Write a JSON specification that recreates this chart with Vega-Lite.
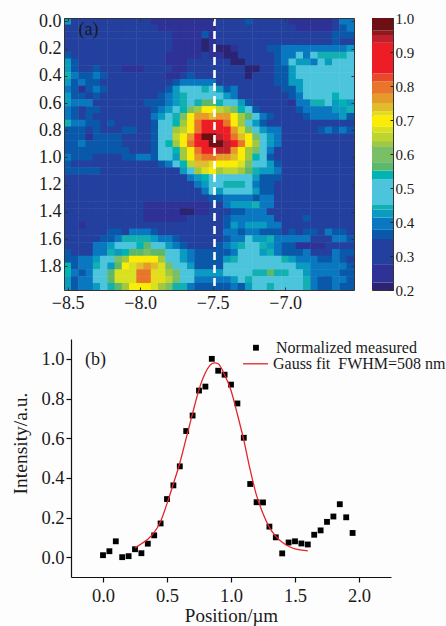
{"$schema":"https://vega.github.io/schema/vega-lite/v6.json","background":"#fdfdfd","padding":{"left":10,"top":10,"right":0,"bottom":0},"config":{"font":"Liberation Serif","axis":{"grid":false,"labelFont":"Liberation Serif","titleFont":"Liberation Serif","labelColor":"#1a1a1a","titleColor":"#1a1a1a","titleFontWeight":"normal","labelOverlap":false},"view":{"stroke":null}},"columns":2,"align":"none","bounds":"flush","spacing":{"row":49,"column":-19},"concat":[{"width":290,"height":272,"layer":[{"data":{"values":[
{"x":-8.5,"y":0,"v":0.42},{"x":-8.45,"y":0,"v":0.31},{"x":-8.4,"y":0,"v":0.31},{"x":-8.35,"y":0,"v":0.31},{"x":-8.3,"y":0,"v":0.31},{"x":-8.25,"y":0,"v":0.31},{"x":-8.2,"y":0,"v":0.31},{"x":-8.15,"y":0,"v":0.31},{"x":-8.1,"y":0,"v":0.31},{"x":-8.05,"y":0,"v":0.31},{"x":-8,"y":0,"v":0.31},{"x":-7.95,"y":0,"v":0.31},{"x":-7.9,"y":0,"v":0.25},{"x":-7.85,"y":0,"v":0.25},{"x":-7.8,"y":0,"v":0.25},{"x":-7.75,"y":0,"v":0.25},{"x":-7.7,"y":0,"v":0.25},{"x":-7.65,"y":0,"v":0.25},{"x":-7.6,"y":0,"v":0.25},{"x":-7.55,"y":0,"v":0.25},{"x":-7.5,"y":0,"v":0.25},{"x":-7.45,"y":0,"v":0.31},{"x":-7.4,"y":0,"v":0.31},{"x":-7.35,"y":0,"v":0.31},{"x":-7.3,"y":0,"v":0.31},{"x":-7.25,"y":0,"v":0.36},{"x":-7.2,"y":0,"v":0.31},{"x":-7.15,"y":0,"v":0.31},{"x":-7.1,"y":0,"v":0.31},{"x":-7.05,"y":0,"v":0.31},{"x":-7,"y":0,"v":0.31},{"x":-6.95,"y":0,"v":0.25},{"x":-6.9,"y":0,"v":0.25},{"x":-6.85,"y":0,"v":0.25},{"x":-6.8,"y":0,"v":0.25},{"x":-6.75,"y":0,"v":0.25},{"x":-6.7,"y":0,"v":0.25},{"x":-6.65,"y":0,"v":0.31},{"x":-6.6,"y":0,"v":0.39},{"x":-6.55,"y":0,"v":0.39},
{"x":-8.5,"y":0.05,"v":0.31},{"x":-8.45,"y":0.05,"v":0.31},{"x":-8.4,"y":0.05,"v":0.31},{"x":-8.35,"y":0.05,"v":0.31},{"x":-8.3,"y":0.05,"v":0.31},{"x":-8.25,"y":0.05,"v":0.31},{"x":-8.2,"y":0.05,"v":0.31},{"x":-8.15,"y":0.05,"v":0.31},{"x":-8.1,"y":0.05,"v":0.31},{"x":-8.05,"y":0.05,"v":0.31},{"x":-8,"y":0.05,"v":0.31},{"x":-7.95,"y":0.05,"v":0.31},{"x":-7.9,"y":0.05,"v":0.31},{"x":-7.85,"y":0.05,"v":0.25},{"x":-7.8,"y":0.05,"v":0.25},{"x":-7.75,"y":0.05,"v":0.25},{"x":-7.7,"y":0.05,"v":0.25},{"x":-7.65,"y":0.05,"v":0.25},{"x":-7.6,"y":0.05,"v":0.25},{"x":-7.55,"y":0.05,"v":0.25},{"x":-7.5,"y":0.05,"v":0.25},{"x":-7.45,"y":0.05,"v":0.31},{"x":-7.4,"y":0.05,"v":0.31},{"x":-7.35,"y":0.05,"v":0.31},{"x":-7.3,"y":0.05,"v":0.31},{"x":-7.25,"y":0.05,"v":0.31},{"x":-7.2,"y":0.05,"v":0.31},{"x":-7.15,"y":0.05,"v":0.31},{"x":-7.1,"y":0.05,"v":0.31},{"x":-7.05,"y":0.05,"v":0.31},{"x":-7,"y":0.05,"v":0.31},{"x":-6.95,"y":0.05,"v":0.31},{"x":-6.9,"y":0.05,"v":0.25},{"x":-6.85,"y":0.05,"v":0.25},{"x":-6.8,"y":0.05,"v":0.25},{"x":-6.75,"y":0.05,"v":0.25},{"x":-6.7,"y":0.05,"v":0.25},{"x":-6.65,"y":0.05,"v":0.31},{"x":-6.6,"y":0.05,"v":0.36},{"x":-6.55,"y":0.05,"v":0.39},
{"x":-8.5,"y":0.1,"v":0.31},{"x":-8.45,"y":0.1,"v":0.31},{"x":-8.4,"y":0.1,"v":0.31},{"x":-8.35,"y":0.1,"v":0.31},{"x":-8.3,"y":0.1,"v":0.31},{"x":-8.25,"y":0.1,"v":0.31},{"x":-8.2,"y":0.1,"v":0.31},{"x":-8.15,"y":0.1,"v":0.31},{"x":-8.1,"y":0.1,"v":0.31},{"x":-8.05,"y":0.1,"v":0.31},{"x":-8,"y":0.1,"v":0.31},{"x":-7.95,"y":0.1,"v":0.31},{"x":-7.9,"y":0.1,"v":0.31},{"x":-7.85,"y":0.1,"v":0.31},{"x":-7.8,"y":0.1,"v":0.31},{"x":-7.75,"y":0.1,"v":0.25},{"x":-7.7,"y":0.1,"v":0.25},{"x":-7.65,"y":0.1,"v":0.25},{"x":-7.6,"y":0.1,"v":0.25},{"x":-7.55,"y":0.1,"v":0.36},{"x":-7.5,"y":0.1,"v":0.25},{"x":-7.45,"y":0.1,"v":0.31},{"x":-7.4,"y":0.1,"v":0.31},{"x":-7.35,"y":0.1,"v":0.31},{"x":-7.3,"y":0.1,"v":0.31},{"x":-7.25,"y":0.1,"v":0.31},{"x":-7.2,"y":0.1,"v":0.31},{"x":-7.15,"y":0.1,"v":0.31},{"x":-7.1,"y":0.1,"v":0.31},{"x":-7.05,"y":0.1,"v":0.31},{"x":-7,"y":0.1,"v":0.31},{"x":-6.95,"y":0.1,"v":0.31},{"x":-6.9,"y":0.1,"v":0.31},{"x":-6.85,"y":0.1,"v":0.31},{"x":-6.8,"y":0.1,"v":0.31},{"x":-6.75,"y":0.1,"v":0.31},{"x":-6.7,"y":0.1,"v":0.31},{"x":-6.65,"y":0.1,"v":0.36},{"x":-6.6,"y":0.1,"v":0.36},{"x":-6.55,"y":0.1,"v":0.36},
{"x":-8.5,"y":0.15,"v":0.31},{"x":-8.45,"y":0.15,"v":0.31},{"x":-8.4,"y":0.15,"v":0.31},{"x":-8.35,"y":0.15,"v":0.31},{"x":-8.3,"y":0.15,"v":0.31},{"x":-8.25,"y":0.15,"v":0.31},{"x":-8.2,"y":0.15,"v":0.31},{"x":-8.15,"y":0.15,"v":0.31},{"x":-8.1,"y":0.15,"v":0.31},{"x":-8.05,"y":0.15,"v":0.31},{"x":-8,"y":0.15,"v":0.31},{"x":-7.95,"y":0.15,"v":0.31},{"x":-7.9,"y":0.15,"v":0.31},{"x":-7.85,"y":0.15,"v":0.31},{"x":-7.8,"y":0.15,"v":0.31},{"x":-7.75,"y":0.15,"v":0.25},{"x":-7.7,"y":0.15,"v":0.25},{"x":-7.65,"y":0.15,"v":0.25},{"x":-7.6,"y":0.15,"v":0.25},{"x":-7.55,"y":0.15,"v":0.21},{"x":-7.5,"y":0.15,"v":0.25},{"x":-7.45,"y":0.15,"v":0.31},{"x":-7.4,"y":0.15,"v":0.31},{"x":-7.35,"y":0.15,"v":0.31},{"x":-7.3,"y":0.15,"v":0.31},{"x":-7.25,"y":0.15,"v":0.31},{"x":-7.2,"y":0.15,"v":0.31},{"x":-7.15,"y":0.15,"v":0.31},{"x":-7.1,"y":0.15,"v":0.31},{"x":-7.05,"y":0.15,"v":0.31},{"x":-7,"y":0.15,"v":0.31},{"x":-6.95,"y":0.15,"v":0.31},{"x":-6.9,"y":0.15,"v":0.31},{"x":-6.85,"y":0.15,"v":0.31},{"x":-6.8,"y":0.15,"v":0.31},{"x":-6.75,"y":0.15,"v":0.31},{"x":-6.7,"y":0.15,"v":0.31},{"x":-6.65,"y":0.15,"v":0.36},{"x":-6.6,"y":0.15,"v":0.31},{"x":-6.55,"y":0.15,"v":0.31},
{"x":-8.5,"y":0.2,"v":0.31},{"x":-8.45,"y":0.2,"v":0.31},{"x":-8.4,"y":0.2,"v":0.31},{"x":-8.35,"y":0.2,"v":0.31},{"x":-8.3,"y":0.2,"v":0.31},{"x":-8.25,"y":0.2,"v":0.31},{"x":-8.2,"y":0.2,"v":0.31},{"x":-8.15,"y":0.2,"v":0.31},{"x":-8.1,"y":0.2,"v":0.31},{"x":-8.05,"y":0.2,"v":0.31},{"x":-8,"y":0.2,"v":0.31},{"x":-7.95,"y":0.2,"v":0.31},{"x":-7.9,"y":0.2,"v":0.31},{"x":-7.85,"y":0.2,"v":0.31},{"x":-7.8,"y":0.2,"v":0.31},{"x":-7.75,"y":0.2,"v":0.25},{"x":-7.7,"y":0.2,"v":0.25},{"x":-7.65,"y":0.2,"v":0.25},{"x":-7.6,"y":0.2,"v":0.25},{"x":-7.55,"y":0.2,"v":0.21},{"x":-7.5,"y":0.2,"v":0.25},{"x":-7.45,"y":0.2,"v":0.21},{"x":-7.4,"y":0.2,"v":0.21},{"x":-7.35,"y":0.2,"v":0.25},{"x":-7.3,"y":0.2,"v":0.31},{"x":-7.25,"y":0.2,"v":0.31},{"x":-7.2,"y":0.2,"v":0.31},{"x":-7.15,"y":0.2,"v":0.31},{"x":-7.1,"y":0.2,"v":0.36},{"x":-7.05,"y":0.2,"v":0.36},{"x":-7,"y":0.2,"v":0.39},{"x":-6.95,"y":0.2,"v":0.39},{"x":-6.9,"y":0.2,"v":0.39},{"x":-6.85,"y":0.2,"v":0.39},{"x":-6.8,"y":0.2,"v":0.39},{"x":-6.75,"y":0.2,"v":0.39},{"x":-6.7,"y":0.2,"v":0.39},{"x":-6.65,"y":0.2,"v":0.39},{"x":-6.6,"y":0.2,"v":0.39},{"x":-6.55,"y":0.2,"v":0.42},
{"x":-8.5,"y":0.25,"v":0.36},{"x":-8.45,"y":0.25,"v":0.31},{"x":-8.4,"y":0.25,"v":0.31},{"x":-8.35,"y":0.25,"v":0.31},{"x":-8.3,"y":0.25,"v":0.31},{"x":-8.25,"y":0.25,"v":0.31},{"x":-8.2,"y":0.25,"v":0.31},{"x":-8.15,"y":0.25,"v":0.31},{"x":-8.1,"y":0.25,"v":0.31},{"x":-8.05,"y":0.25,"v":0.31},{"x":-8,"y":0.25,"v":0.31},{"x":-7.95,"y":0.25,"v":0.31},{"x":-7.9,"y":0.25,"v":0.31},{"x":-7.85,"y":0.25,"v":0.31},{"x":-7.8,"y":0.25,"v":0.25},{"x":-7.75,"y":0.25,"v":0.25},{"x":-7.7,"y":0.25,"v":0.25},{"x":-7.65,"y":0.25,"v":0.25},{"x":-7.6,"y":0.25,"v":0.25},{"x":-7.55,"y":0.25,"v":0.31},{"x":-7.5,"y":0.25,"v":0.25},{"x":-7.45,"y":0.25,"v":0.25},{"x":-7.4,"y":0.25,"v":0.21},{"x":-7.35,"y":0.25,"v":0.21},{"x":-7.3,"y":0.25,"v":0.31},{"x":-7.25,"y":0.25,"v":0.31},{"x":-7.2,"y":0.25,"v":0.31},{"x":-7.15,"y":0.25,"v":0.31},{"x":-7.1,"y":0.25,"v":0.31},{"x":-7.05,"y":0.25,"v":0.36},{"x":-7,"y":0.25,"v":0.39},{"x":-6.95,"y":0.25,"v":0.39},{"x":-6.9,"y":0.25,"v":0.49},{"x":-6.85,"y":0.25,"v":0.39},{"x":-6.8,"y":0.25,"v":0.49},{"x":-6.75,"y":0.25,"v":0.44},{"x":-6.7,"y":0.25,"v":0.44},{"x":-6.65,"y":0.25,"v":0.44},{"x":-6.6,"y":0.25,"v":0.44},{"x":-6.55,"y":0.25,"v":0.49},
{"x":-8.5,"y":0.3,"v":0.42},{"x":-8.45,"y":0.3,"v":0.36},{"x":-8.4,"y":0.3,"v":0.31},{"x":-8.35,"y":0.3,"v":0.31},{"x":-8.3,"y":0.3,"v":0.31},{"x":-8.25,"y":0.3,"v":0.31},{"x":-8.2,"y":0.3,"v":0.31},{"x":-8.15,"y":0.3,"v":0.31},{"x":-8.1,"y":0.3,"v":0.31},{"x":-8.05,"y":0.3,"v":0.31},{"x":-8,"y":0.3,"v":0.31},{"x":-7.95,"y":0.3,"v":0.31},{"x":-7.9,"y":0.3,"v":0.31},{"x":-7.85,"y":0.3,"v":0.31},{"x":-7.8,"y":0.3,"v":0.25},{"x":-7.75,"y":0.3,"v":0.25},{"x":-7.7,"y":0.3,"v":0.25},{"x":-7.65,"y":0.3,"v":0.31},{"x":-7.6,"y":0.3,"v":0.31},{"x":-7.55,"y":0.3,"v":0.31},{"x":-7.5,"y":0.3,"v":0.31},{"x":-7.45,"y":0.3,"v":0.31},{"x":-7.4,"y":0.3,"v":0.31},{"x":-7.35,"y":0.3,"v":0.21},{"x":-7.3,"y":0.3,"v":0.21},{"x":-7.25,"y":0.3,"v":0.31},{"x":-7.2,"y":0.3,"v":0.31},{"x":-7.15,"y":0.3,"v":0.31},{"x":-7.1,"y":0.3,"v":0.31},{"x":-7.05,"y":0.3,"v":0.36},{"x":-7,"y":0.3,"v":0.39},{"x":-6.95,"y":0.3,"v":0.49},{"x":-6.9,"y":0.3,"v":0.42},{"x":-6.85,"y":0.3,"v":0.42},{"x":-6.8,"y":0.3,"v":0.39},{"x":-6.75,"y":0.3,"v":0.49},{"x":-6.7,"y":0.3,"v":0.42},{"x":-6.65,"y":0.3,"v":0.49},{"x":-6.6,"y":0.3,"v":0.49},{"x":-6.55,"y":0.3,"v":0.49},
{"x":-8.5,"y":0.35,"v":0.42},{"x":-8.45,"y":0.35,"v":0.36},{"x":-8.4,"y":0.35,"v":0.31},{"x":-8.35,"y":0.35,"v":0.31},{"x":-8.3,"y":0.35,"v":0.36},{"x":-8.25,"y":0.35,"v":0.31},{"x":-8.2,"y":0.35,"v":0.31},{"x":-8.15,"y":0.35,"v":0.31},{"x":-8.1,"y":0.35,"v":0.25},{"x":-8.05,"y":0.35,"v":0.25},{"x":-8,"y":0.35,"v":0.25},{"x":-7.95,"y":0.35,"v":0.31},{"x":-7.9,"y":0.35,"v":0.31},{"x":-7.85,"y":0.35,"v":0.31},{"x":-7.8,"y":0.35,"v":0.31},{"x":-7.75,"y":0.35,"v":0.25},{"x":-7.7,"y":0.35,"v":0.25},{"x":-7.65,"y":0.35,"v":0.31},{"x":-7.6,"y":0.35,"v":0.31},{"x":-7.55,"y":0.35,"v":0.31},{"x":-7.5,"y":0.35,"v":0.31},{"x":-7.45,"y":0.35,"v":0.31},{"x":-7.4,"y":0.35,"v":0.31},{"x":-7.35,"y":0.35,"v":0.31},{"x":-7.3,"y":0.35,"v":0.31},{"x":-7.25,"y":0.35,"v":0.21},{"x":-7.2,"y":0.35,"v":0.21},{"x":-7.15,"y":0.35,"v":0.31},{"x":-7.1,"y":0.35,"v":0.31},{"x":-7.05,"y":0.35,"v":0.36},{"x":-7,"y":0.35,"v":0.36},{"x":-6.95,"y":0.35,"v":0.42},{"x":-6.9,"y":0.35,"v":0.49},{"x":-6.85,"y":0.35,"v":0.49},{"x":-6.8,"y":0.35,"v":0.49},{"x":-6.75,"y":0.35,"v":0.49},{"x":-6.7,"y":0.35,"v":0.49},{"x":-6.65,"y":0.35,"v":0.49},{"x":-6.6,"y":0.35,"v":0.49},{"x":-6.55,"y":0.35,"v":0.49},
{"x":-8.5,"y":0.4,"v":0.44},{"x":-8.45,"y":0.4,"v":0.39},{"x":-8.4,"y":0.4,"v":0.36},{"x":-8.35,"y":0.4,"v":0.36},{"x":-8.3,"y":0.4,"v":0.39},{"x":-8.25,"y":0.4,"v":0.36},{"x":-8.2,"y":0.4,"v":0.31},{"x":-8.15,"y":0.4,"v":0.31},{"x":-8.1,"y":0.4,"v":0.31},{"x":-8.05,"y":0.4,"v":0.31},{"x":-8,"y":0.4,"v":0.31},{"x":-7.95,"y":0.4,"v":0.31},{"x":-7.9,"y":0.4,"v":0.31},{"x":-7.85,"y":0.4,"v":0.31},{"x":-7.8,"y":0.4,"v":0.25},{"x":-7.75,"y":0.4,"v":0.25},{"x":-7.7,"y":0.4,"v":0.31},{"x":-7.65,"y":0.4,"v":0.36},{"x":-7.6,"y":0.4,"v":0.31},{"x":-7.55,"y":0.4,"v":0.31},{"x":-7.5,"y":0.4,"v":0.31},{"x":-7.45,"y":0.4,"v":0.31},{"x":-7.4,"y":0.4,"v":0.31},{"x":-7.35,"y":0.4,"v":0.31},{"x":-7.3,"y":0.4,"v":0.31},{"x":-7.25,"y":0.4,"v":0.21},{"x":-7.2,"y":0.4,"v":0.31},{"x":-7.15,"y":0.4,"v":0.31},{"x":-7.1,"y":0.4,"v":0.31},{"x":-7.05,"y":0.4,"v":0.36},{"x":-7,"y":0.4,"v":0.36},{"x":-6.95,"y":0.4,"v":0.42},{"x":-6.9,"y":0.4,"v":0.49},{"x":-6.85,"y":0.4,"v":0.49},{"x":-6.8,"y":0.4,"v":0.49},{"x":-6.75,"y":0.4,"v":0.49},{"x":-6.7,"y":0.4,"v":0.49},{"x":-6.65,"y":0.4,"v":0.49},{"x":-6.6,"y":0.4,"v":0.49},{"x":-6.55,"y":0.4,"v":0.49},
{"x":-8.5,"y":0.45,"v":0.42},{"x":-8.45,"y":0.45,"v":0.36},{"x":-8.4,"y":0.45,"v":0.39},{"x":-8.35,"y":0.45,"v":0.36},{"x":-8.3,"y":0.45,"v":0.36},{"x":-8.25,"y":0.45,"v":0.31},{"x":-8.2,"y":0.45,"v":0.31},{"x":-8.15,"y":0.45,"v":0.31},{"x":-8.1,"y":0.45,"v":0.31},{"x":-8.05,"y":0.45,"v":0.31},{"x":-8,"y":0.45,"v":0.31},{"x":-7.95,"y":0.45,"v":0.31},{"x":-7.9,"y":0.45,"v":0.31},{"x":-7.85,"y":0.45,"v":0.31},{"x":-7.8,"y":0.45,"v":0.31},{"x":-7.75,"y":0.45,"v":0.36},{"x":-7.7,"y":0.45,"v":0.39},{"x":-7.65,"y":0.45,"v":0.39},{"x":-7.6,"y":0.45,"v":0.39},{"x":-7.55,"y":0.45,"v":0.39},{"x":-7.5,"y":0.45,"v":0.39},{"x":-7.45,"y":0.45,"v":0.31},{"x":-7.4,"y":0.45,"v":0.31},{"x":-7.35,"y":0.45,"v":0.31},{"x":-7.3,"y":0.45,"v":0.31},{"x":-7.25,"y":0.45,"v":0.31},{"x":-7.2,"y":0.45,"v":0.31},{"x":-7.15,"y":0.45,"v":0.31},{"x":-7.1,"y":0.45,"v":0.31},{"x":-7.05,"y":0.45,"v":0.36},{"x":-7,"y":0.45,"v":0.36},{"x":-6.95,"y":0.45,"v":0.42},{"x":-6.9,"y":0.45,"v":0.42},{"x":-6.85,"y":0.45,"v":0.49},{"x":-6.8,"y":0.45,"v":0.49},{"x":-6.75,"y":0.45,"v":0.49},{"x":-6.7,"y":0.45,"v":0.49},{"x":-6.65,"y":0.45,"v":0.49},{"x":-6.6,"y":0.45,"v":0.49},{"x":-6.55,"y":0.45,"v":0.49},
{"x":-8.5,"y":0.5,"v":0.39},{"x":-8.45,"y":0.5,"v":0.36},{"x":-8.4,"y":0.5,"v":0.25},{"x":-8.35,"y":0.5,"v":0.36},{"x":-8.3,"y":0.5,"v":0.39},{"x":-8.25,"y":0.5,"v":0.36},{"x":-8.2,"y":0.5,"v":0.31},{"x":-8.15,"y":0.5,"v":0.31},{"x":-8.1,"y":0.5,"v":0.31},{"x":-8.05,"y":0.5,"v":0.31},{"x":-8,"y":0.5,"v":0.31},{"x":-7.95,"y":0.5,"v":0.31},{"x":-7.9,"y":0.5,"v":0.31},{"x":-7.85,"y":0.5,"v":0.31},{"x":-7.8,"y":0.5,"v":0.36},{"x":-7.75,"y":0.5,"v":0.42},{"x":-7.7,"y":0.5,"v":0.49},{"x":-7.65,"y":0.5,"v":0.49},{"x":-7.6,"y":0.5,"v":0.49},{"x":-7.55,"y":0.5,"v":0.44},{"x":-7.5,"y":0.5,"v":0.49},{"x":-7.45,"y":0.5,"v":0.42},{"x":-7.4,"y":0.5,"v":0.36},{"x":-7.35,"y":0.5,"v":0.39},{"x":-7.3,"y":0.5,"v":0.31},{"x":-7.25,"y":0.5,"v":0.31},{"x":-7.2,"y":0.5,"v":0.31},{"x":-7.15,"y":0.5,"v":0.31},{"x":-7.1,"y":0.5,"v":0.31},{"x":-7.05,"y":0.5,"v":0.31},{"x":-7,"y":0.5,"v":0.36},{"x":-6.95,"y":0.5,"v":0.36},{"x":-6.9,"y":0.5,"v":0.42},{"x":-6.85,"y":0.5,"v":0.49},{"x":-6.8,"y":0.5,"v":0.49},{"x":-6.75,"y":0.5,"v":0.49},{"x":-6.7,"y":0.5,"v":0.49},{"x":-6.65,"y":0.5,"v":0.49},{"x":-6.6,"y":0.5,"v":0.49},{"x":-6.55,"y":0.5,"v":0.49},
{"x":-8.5,"y":0.55,"v":0.42},{"x":-8.45,"y":0.55,"v":0.36},{"x":-8.4,"y":0.55,"v":0.36},{"x":-8.35,"y":0.55,"v":0.31},{"x":-8.3,"y":0.55,"v":0.36},{"x":-8.25,"y":0.55,"v":0.31},{"x":-8.2,"y":0.55,"v":0.31},{"x":-8.15,"y":0.55,"v":0.31},{"x":-8.1,"y":0.55,"v":0.31},{"x":-8.05,"y":0.55,"v":0.31},{"x":-8,"y":0.55,"v":0.31},{"x":-7.95,"y":0.55,"v":0.31},{"x":-7.9,"y":0.55,"v":0.31},{"x":-7.85,"y":0.55,"v":0.36},{"x":-7.8,"y":0.55,"v":0.39},{"x":-7.75,"y":0.55,"v":0.42},{"x":-7.7,"y":0.55,"v":0.44},{"x":-7.65,"y":0.55,"v":0.49},{"x":-7.6,"y":0.55,"v":0.49},{"x":-7.55,"y":0.55,"v":0.49},{"x":-7.5,"y":0.55,"v":0.49},{"x":-7.45,"y":0.55,"v":0.49},{"x":-7.4,"y":0.55,"v":0.42},{"x":-7.35,"y":0.55,"v":0.39},{"x":-7.3,"y":0.55,"v":0.31},{"x":-7.25,"y":0.55,"v":0.31},{"x":-7.2,"y":0.55,"v":0.31},{"x":-7.15,"y":0.55,"v":0.31},{"x":-7.1,"y":0.55,"v":0.31},{"x":-7.05,"y":0.55,"v":0.31},{"x":-7,"y":0.55,"v":0.31},{"x":-6.95,"y":0.55,"v":0.36},{"x":-6.9,"y":0.55,"v":0.39},{"x":-6.85,"y":0.55,"v":0.49},{"x":-6.8,"y":0.55,"v":0.49},{"x":-6.75,"y":0.55,"v":0.49},{"x":-6.7,"y":0.55,"v":0.49},{"x":-6.65,"y":0.55,"v":0.54},{"x":-6.6,"y":0.55,"v":0.49},{"x":-6.55,"y":0.55,"v":0.49},
{"x":-8.5,"y":0.6,"v":0.42},{"x":-8.45,"y":0.6,"v":0.39},{"x":-8.4,"y":0.6,"v":0.39},{"x":-8.35,"y":0.6,"v":0.39},{"x":-8.3,"y":0.6,"v":0.31},{"x":-8.25,"y":0.6,"v":0.31},{"x":-8.2,"y":0.6,"v":0.31},{"x":-8.15,"y":0.6,"v":0.31},{"x":-8.1,"y":0.6,"v":0.31},{"x":-8.05,"y":0.6,"v":0.31},{"x":-8,"y":0.6,"v":0.31},{"x":-7.95,"y":0.6,"v":0.36},{"x":-7.9,"y":0.6,"v":0.36},{"x":-7.85,"y":0.6,"v":0.36},{"x":-7.8,"y":0.6,"v":0.39},{"x":-7.75,"y":0.6,"v":0.42},{"x":-7.7,"y":0.6,"v":0.44},{"x":-7.65,"y":0.6,"v":0.49},{"x":-7.6,"y":0.6,"v":0.44},{"x":-7.55,"y":0.6,"v":0.56},{"x":-7.5,"y":0.6,"v":0.56},{"x":-7.45,"y":0.6,"v":0.44},{"x":-7.4,"y":0.6,"v":0.49},{"x":-7.35,"y":0.6,"v":0.49},{"x":-7.3,"y":0.6,"v":0.42},{"x":-7.25,"y":0.6,"v":0.36},{"x":-7.2,"y":0.6,"v":0.31},{"x":-7.15,"y":0.6,"v":0.31},{"x":-7.1,"y":0.6,"v":0.31},{"x":-7.05,"y":0.6,"v":0.31},{"x":-7,"y":0.6,"v":0.31},{"x":-6.95,"y":0.6,"v":0.25},{"x":-6.9,"y":0.6,"v":0.39},{"x":-6.85,"y":0.6,"v":0.39},{"x":-6.8,"y":0.6,"v":0.44},{"x":-6.75,"y":0.6,"v":0.44},{"x":-6.7,"y":0.6,"v":0.49},{"x":-6.65,"y":0.6,"v":0.42},{"x":-6.6,"y":0.6,"v":0.54},{"x":-6.55,"y":0.6,"v":0.42},
{"x":-8.5,"y":0.65,"v":0.39},{"x":-8.45,"y":0.65,"v":0.36},{"x":-8.4,"y":0.65,"v":0.31},{"x":-8.35,"y":0.65,"v":0.36},{"x":-8.3,"y":0.65,"v":0.36},{"x":-8.25,"y":0.65,"v":0.31},{"x":-8.2,"y":0.65,"v":0.31},{"x":-8.15,"y":0.65,"v":0.31},{"x":-8.1,"y":0.65,"v":0.31},{"x":-8.05,"y":0.65,"v":0.31},{"x":-8,"y":0.65,"v":0.31},{"x":-7.95,"y":0.65,"v":0.31},{"x":-7.9,"y":0.65,"v":0.36},{"x":-7.85,"y":0.65,"v":0.39},{"x":-7.8,"y":0.65,"v":0.42},{"x":-7.75,"y":0.65,"v":0.49},{"x":-7.7,"y":0.65,"v":0.54},{"x":-7.65,"y":0.65,"v":0.6},{"x":-7.6,"y":0.65,"v":0.63},{"x":-7.55,"y":0.65,"v":0.7},{"x":-7.5,"y":0.65,"v":0.7},{"x":-7.45,"y":0.65,"v":0.65},{"x":-7.4,"y":0.65,"v":0.63},{"x":-7.35,"y":0.65,"v":0.6},{"x":-7.3,"y":0.65,"v":0.54},{"x":-7.25,"y":0.65,"v":0.49},{"x":-7.2,"y":0.65,"v":0.36},{"x":-7.15,"y":0.65,"v":0.31},{"x":-7.1,"y":0.65,"v":0.31},{"x":-7.05,"y":0.65,"v":0.31},{"x":-7,"y":0.65,"v":0.31},{"x":-6.95,"y":0.65,"v":0.31},{"x":-6.9,"y":0.65,"v":0.36},{"x":-6.85,"y":0.65,"v":0.39},{"x":-6.8,"y":0.65,"v":0.39},{"x":-6.75,"y":0.65,"v":0.39},{"x":-6.7,"y":0.65,"v":0.39},{"x":-6.65,"y":0.65,"v":0.42},{"x":-6.6,"y":0.65,"v":0.42},{"x":-6.55,"y":0.65,"v":0.44},
{"x":-8.5,"y":0.7,"v":0.39},{"x":-8.45,"y":0.7,"v":0.36},{"x":-8.4,"y":0.7,"v":0.31},{"x":-8.35,"y":0.7,"v":0.36},{"x":-8.3,"y":0.7,"v":0.31},{"x":-8.25,"y":0.7,"v":0.31},{"x":-8.2,"y":0.7,"v":0.31},{"x":-8.15,"y":0.7,"v":0.31},{"x":-8.1,"y":0.7,"v":0.31},{"x":-8.05,"y":0.7,"v":0.31},{"x":-8,"y":0.7,"v":0.31},{"x":-7.95,"y":0.7,"v":0.31},{"x":-7.9,"y":0.7,"v":0.39},{"x":-7.85,"y":0.7,"v":0.42},{"x":-7.8,"y":0.7,"v":0.49},{"x":-7.75,"y":0.7,"v":0.44},{"x":-7.7,"y":0.7,"v":0.6},{"x":-7.65,"y":0.7,"v":0.7},{"x":-7.6,"y":0.7,"v":0.76},{"x":-7.55,"y":0.7,"v":0.76},{"x":-7.5,"y":0.7,"v":0.74},{"x":-7.45,"y":0.7,"v":0.76},{"x":-7.4,"y":0.7,"v":0.76},{"x":-7.35,"y":0.7,"v":0.7},{"x":-7.3,"y":0.7,"v":0.63},{"x":-7.25,"y":0.7,"v":0.56},{"x":-7.2,"y":0.7,"v":0.49},{"x":-7.15,"y":0.7,"v":0.39},{"x":-7.1,"y":0.7,"v":0.36},{"x":-7.05,"y":0.7,"v":0.31},{"x":-7,"y":0.7,"v":0.31},{"x":-6.95,"y":0.7,"v":0.31},{"x":-6.9,"y":0.7,"v":0.31},{"x":-6.85,"y":0.7,"v":0.36},{"x":-6.8,"y":0.7,"v":0.39},{"x":-6.75,"y":0.7,"v":0.39},{"x":-6.7,"y":0.7,"v":0.39},{"x":-6.65,"y":0.7,"v":0.39},{"x":-6.6,"y":0.7,"v":0.42},{"x":-6.55,"y":0.7,"v":0.36},
{"x":-8.5,"y":0.75,"v":0.44},{"x":-8.45,"y":0.75,"v":0.39},{"x":-8.4,"y":0.75,"v":0.39},{"x":-8.35,"y":0.75,"v":0.36},{"x":-8.3,"y":0.75,"v":0.36},{"x":-8.25,"y":0.75,"v":0.31},{"x":-8.2,"y":0.75,"v":0.36},{"x":-8.15,"y":0.75,"v":0.31},{"x":-8.1,"y":0.75,"v":0.31},{"x":-8.05,"y":0.75,"v":0.31},{"x":-8,"y":0.75,"v":0.31},{"x":-7.95,"y":0.75,"v":0.31},{"x":-7.9,"y":0.75,"v":0.36},{"x":-7.85,"y":0.75,"v":0.49},{"x":-7.8,"y":0.75,"v":0.49},{"x":-7.75,"y":0.75,"v":0.54},{"x":-7.7,"y":0.75,"v":0.63},{"x":-7.65,"y":0.75,"v":0.7},{"x":-7.6,"y":0.75,"v":0.8},{"x":-7.55,"y":0.75,"v":0.88},{"x":-7.5,"y":0.75,"v":0.88},{"x":-7.45,"y":0.75,"v":0.88},{"x":-7.4,"y":0.75,"v":0.8},{"x":-7.35,"y":0.75,"v":0.7},{"x":-7.3,"y":0.75,"v":0.63},{"x":-7.25,"y":0.75,"v":0.49},{"x":-7.2,"y":0.75,"v":0.42},{"x":-7.15,"y":0.75,"v":0.36},{"x":-7.1,"y":0.75,"v":0.31},{"x":-7.05,"y":0.75,"v":0.31},{"x":-7,"y":0.75,"v":0.31},{"x":-6.95,"y":0.75,"v":0.31},{"x":-6.9,"y":0.75,"v":0.31},{"x":-6.85,"y":0.75,"v":0.31},{"x":-6.8,"y":0.75,"v":0.31},{"x":-6.75,"y":0.75,"v":0.31},{"x":-6.7,"y":0.75,"v":0.31},{"x":-6.65,"y":0.75,"v":0.31},{"x":-6.6,"y":0.75,"v":0.31},{"x":-6.55,"y":0.75,"v":0.31},
{"x":-8.5,"y":0.8,"v":0.36},{"x":-8.45,"y":0.8,"v":0.36},{"x":-8.4,"y":0.8,"v":0.36},{"x":-8.35,"y":0.8,"v":0.31},{"x":-8.3,"y":0.8,"v":0.36},{"x":-8.25,"y":0.8,"v":0.31},{"x":-8.2,"y":0.8,"v":0.31},{"x":-8.15,"y":0.8,"v":0.31},{"x":-8.1,"y":0.8,"v":0.36},{"x":-8.05,"y":0.8,"v":0.36},{"x":-8,"y":0.8,"v":0.31},{"x":-7.95,"y":0.8,"v":0.31},{"x":-7.9,"y":0.8,"v":0.36},{"x":-7.85,"y":0.8,"v":0.49},{"x":-7.8,"y":0.8,"v":0.49},{"x":-7.75,"y":0.8,"v":0.63},{"x":-7.7,"y":0.8,"v":0.65},{"x":-7.65,"y":0.8,"v":0.7},{"x":-7.6,"y":0.8,"v":0.8},{"x":-7.55,"y":0.8,"v":0.88},{"x":-7.5,"y":0.8,"v":0.88},{"x":-7.45,"y":0.8,"v":0.88},{"x":-7.4,"y":0.8,"v":0.88},{"x":-7.35,"y":0.8,"v":0.76},{"x":-7.3,"y":0.8,"v":0.67},{"x":-7.25,"y":0.8,"v":0.6},{"x":-7.2,"y":0.8,"v":0.49},{"x":-7.15,"y":0.8,"v":0.42},{"x":-7.1,"y":0.8,"v":0.39},{"x":-7.05,"y":0.8,"v":0.39},{"x":-7,"y":0.8,"v":0.31},{"x":-6.95,"y":0.8,"v":0.31},{"x":-6.9,"y":0.8,"v":0.31},{"x":-6.85,"y":0.8,"v":0.31},{"x":-6.8,"y":0.8,"v":0.31},{"x":-6.75,"y":0.8,"v":0.36},{"x":-6.7,"y":0.8,"v":0.39},{"x":-6.65,"y":0.8,"v":0.36},{"x":-6.6,"y":0.8,"v":0.39},{"x":-6.55,"y":0.8,"v":0.36},
{"x":-8.5,"y":0.85,"v":0.36},{"x":-8.45,"y":0.85,"v":0.36},{"x":-8.4,"y":0.85,"v":0.36},{"x":-8.35,"y":0.85,"v":0.25},{"x":-8.3,"y":0.85,"v":0.36},{"x":-8.25,"y":0.85,"v":0.36},{"x":-8.2,"y":0.85,"v":0.36},{"x":-8.15,"y":0.85,"v":0.36},{"x":-8.1,"y":0.85,"v":0.31},{"x":-8.05,"y":0.85,"v":0.31},{"x":-8,"y":0.85,"v":0.31},{"x":-7.95,"y":0.85,"v":0.31},{"x":-7.9,"y":0.85,"v":0.36},{"x":-7.85,"y":0.85,"v":0.49},{"x":-7.8,"y":0.85,"v":0.49},{"x":-7.75,"y":0.85,"v":0.65},{"x":-7.7,"y":0.85,"v":0.7},{"x":-7.65,"y":0.85,"v":0.76},{"x":-7.6,"y":0.85,"v":0.88},{"x":-7.55,"y":0.85,"v":0.98},{"x":-7.5,"y":0.85,"v":0.98},{"x":-7.45,"y":0.85,"v":0.94},{"x":-7.4,"y":0.85,"v":0.88},{"x":-7.35,"y":0.85,"v":0.8},{"x":-7.3,"y":0.85,"v":0.74},{"x":-7.25,"y":0.85,"v":0.7},{"x":-7.2,"y":0.85,"v":0.6},{"x":-7.15,"y":0.85,"v":0.49},{"x":-7.1,"y":0.85,"v":0.42},{"x":-7.05,"y":0.85,"v":0.39},{"x":-7,"y":0.85,"v":0.31},{"x":-6.95,"y":0.85,"v":0.31},{"x":-6.9,"y":0.85,"v":0.31},{"x":-6.85,"y":0.85,"v":0.31},{"x":-6.8,"y":0.85,"v":0.31},{"x":-6.75,"y":0.85,"v":0.31},{"x":-6.7,"y":0.85,"v":0.31},{"x":-6.65,"y":0.85,"v":0.31},{"x":-6.6,"y":0.85,"v":0.31},{"x":-6.55,"y":0.85,"v":0.31},
{"x":-8.5,"y":0.9,"v":0.36},{"x":-8.45,"y":0.9,"v":0.36},{"x":-8.4,"y":0.9,"v":0.39},{"x":-8.35,"y":0.9,"v":0.36},{"x":-8.3,"y":0.9,"v":0.36},{"x":-8.25,"y":0.9,"v":0.36},{"x":-8.2,"y":0.9,"v":0.36},{"x":-8.15,"y":0.9,"v":0.36},{"x":-8.1,"y":0.9,"v":0.31},{"x":-8.05,"y":0.9,"v":0.31},{"x":-8,"y":0.9,"v":0.31},{"x":-7.95,"y":0.9,"v":0.31},{"x":-7.9,"y":0.9,"v":0.36},{"x":-7.85,"y":0.9,"v":0.49},{"x":-7.8,"y":0.9,"v":0.54},{"x":-7.75,"y":0.9,"v":0.63},{"x":-7.7,"y":0.9,"v":0.7},{"x":-7.65,"y":0.9,"v":0.8},{"x":-7.6,"y":0.9,"v":0.88},{"x":-7.55,"y":0.9,"v":0.88},{"x":-7.5,"y":0.9,"v":0.98},{"x":-7.45,"y":0.9,"v":0.98},{"x":-7.4,"y":0.9,"v":0.94},{"x":-7.35,"y":0.9,"v":0.88},{"x":-7.3,"y":0.9,"v":0.8},{"x":-7.25,"y":0.9,"v":0.7},{"x":-7.2,"y":0.9,"v":0.63},{"x":-7.15,"y":0.9,"v":0.49},{"x":-7.1,"y":0.9,"v":0.42},{"x":-7.05,"y":0.9,"v":0.39},{"x":-7,"y":0.9,"v":0.31},{"x":-6.95,"y":0.9,"v":0.31},{"x":-6.9,"y":0.9,"v":0.31},{"x":-6.85,"y":0.9,"v":0.31},{"x":-6.8,"y":0.9,"v":0.31},{"x":-6.75,"y":0.9,"v":0.31},{"x":-6.7,"y":0.9,"v":0.31},{"x":-6.65,"y":0.9,"v":0.31},{"x":-6.6,"y":0.9,"v":0.31},{"x":-6.55,"y":0.9,"v":0.31},
{"x":-8.5,"y":0.95,"v":0.36},{"x":-8.45,"y":0.95,"v":0.36},{"x":-8.4,"y":0.95,"v":0.36},{"x":-8.35,"y":0.95,"v":0.36},{"x":-8.3,"y":0.95,"v":0.36},{"x":-8.25,"y":0.95,"v":0.36},{"x":-8.2,"y":0.95,"v":0.36},{"x":-8.15,"y":0.95,"v":0.36},{"x":-8.1,"y":0.95,"v":0.36},{"x":-8.05,"y":0.95,"v":0.31},{"x":-8,"y":0.95,"v":0.31},{"x":-7.95,"y":0.95,"v":0.31},{"x":-7.9,"y":0.95,"v":0.36},{"x":-7.85,"y":0.95,"v":0.49},{"x":-7.8,"y":0.95,"v":0.49},{"x":-7.75,"y":0.95,"v":0.54},{"x":-7.7,"y":0.95,"v":0.63},{"x":-7.65,"y":0.95,"v":0.7},{"x":-7.6,"y":0.95,"v":0.8},{"x":-7.55,"y":0.95,"v":0.88},{"x":-7.5,"y":0.95,"v":0.88},{"x":-7.45,"y":0.95,"v":0.94},{"x":-7.4,"y":0.95,"v":0.94},{"x":-7.35,"y":0.95,"v":0.76},{"x":-7.3,"y":0.95,"v":0.7},{"x":-7.25,"y":0.95,"v":0.63},{"x":-7.2,"y":0.95,"v":0.6},{"x":-7.15,"y":0.95,"v":0.49},{"x":-7.1,"y":0.95,"v":0.39},{"x":-7.05,"y":0.95,"v":0.31},{"x":-7,"y":0.95,"v":0.31},{"x":-6.95,"y":0.95,"v":0.31},{"x":-6.9,"y":0.95,"v":0.31},{"x":-6.85,"y":0.95,"v":0.31},{"x":-6.8,"y":0.95,"v":0.31},{"x":-6.75,"y":0.95,"v":0.31},{"x":-6.7,"y":0.95,"v":0.31},{"x":-6.65,"y":0.95,"v":0.31},{"x":-6.6,"y":0.95,"v":0.31},{"x":-6.55,"y":0.95,"v":0.31},
{"x":-8.5,"y":1,"v":0.39},{"x":-8.45,"y":1,"v":0.36},{"x":-8.4,"y":1,"v":0.36},{"x":-8.35,"y":1,"v":0.36},{"x":-8.3,"y":1,"v":0.31},{"x":-8.25,"y":1,"v":0.31},{"x":-8.2,"y":1,"v":0.31},{"x":-8.15,"y":1,"v":0.31},{"x":-8.1,"y":1,"v":0.36},{"x":-8.05,"y":1,"v":0.36},{"x":-8,"y":1,"v":0.39},{"x":-7.95,"y":1,"v":0.39},{"x":-7.9,"y":1,"v":0.36},{"x":-7.85,"y":1,"v":0.49},{"x":-7.8,"y":1,"v":0.49},{"x":-7.75,"y":1,"v":0.42},{"x":-7.7,"y":1,"v":0.63},{"x":-7.65,"y":1,"v":0.7},{"x":-7.6,"y":1,"v":0.76},{"x":-7.55,"y":1,"v":0.8},{"x":-7.5,"y":1,"v":0.8},{"x":-7.45,"y":1,"v":0.76},{"x":-7.4,"y":1,"v":0.76},{"x":-7.35,"y":1,"v":0.74},{"x":-7.3,"y":1,"v":0.7},{"x":-7.25,"y":1,"v":0.63},{"x":-7.2,"y":1,"v":0.54},{"x":-7.15,"y":1,"v":0.49},{"x":-7.1,"y":1,"v":0.36},{"x":-7.05,"y":1,"v":0.31},{"x":-7,"y":1,"v":0.31},{"x":-6.95,"y":1,"v":0.31},{"x":-6.9,"y":1,"v":0.31},{"x":-6.85,"y":1,"v":0.31},{"x":-6.8,"y":1,"v":0.31},{"x":-6.75,"y":1,"v":0.31},{"x":-6.7,"y":1,"v":0.31},{"x":-6.65,"y":1,"v":0.31},{"x":-6.6,"y":1,"v":0.31},{"x":-6.55,"y":1,"v":0.31},
{"x":-8.5,"y":1.05,"v":0.36},{"x":-8.45,"y":1.05,"v":0.31},{"x":-8.4,"y":1.05,"v":0.31},{"x":-8.35,"y":1.05,"v":0.31},{"x":-8.3,"y":1.05,"v":0.31},{"x":-8.25,"y":1.05,"v":0.31},{"x":-8.2,"y":1.05,"v":0.31},{"x":-8.15,"y":1.05,"v":0.31},{"x":-8.1,"y":1.05,"v":0.31},{"x":-8.05,"y":1.05,"v":0.31},{"x":-8,"y":1.05,"v":0.31},{"x":-7.95,"y":1.05,"v":0.31},{"x":-7.9,"y":1.05,"v":0.31},{"x":-7.85,"y":1.05,"v":0.36},{"x":-7.8,"y":1.05,"v":0.39},{"x":-7.75,"y":1.05,"v":0.49},{"x":-7.7,"y":1.05,"v":0.54},{"x":-7.65,"y":1.05,"v":0.65},{"x":-7.6,"y":1.05,"v":0.74},{"x":-7.55,"y":1.05,"v":0.74},{"x":-7.5,"y":1.05,"v":0.72},{"x":-7.45,"y":1.05,"v":0.7},{"x":-7.4,"y":1.05,"v":0.7},{"x":-7.35,"y":1.05,"v":0.7},{"x":-7.3,"y":1.05,"v":0.67},{"x":-7.25,"y":1.05,"v":0.6},{"x":-7.2,"y":1.05,"v":0.49},{"x":-7.15,"y":1.05,"v":0.49},{"x":-7.1,"y":1.05,"v":0.42},{"x":-7.05,"y":1.05,"v":0.36},{"x":-7,"y":1.05,"v":0.31},{"x":-6.95,"y":1.05,"v":0.31},{"x":-6.9,"y":1.05,"v":0.31},{"x":-6.85,"y":1.05,"v":0.31},{"x":-6.8,"y":1.05,"v":0.31},{"x":-6.75,"y":1.05,"v":0.31},{"x":-6.7,"y":1.05,"v":0.31},{"x":-6.65,"y":1.05,"v":0.31},{"x":-6.6,"y":1.05,"v":0.31},{"x":-6.55,"y":1.05,"v":0.31},
{"x":-8.5,"y":1.1,"v":0.36},{"x":-8.45,"y":1.1,"v":0.36},{"x":-8.4,"y":1.1,"v":0.36},{"x":-8.35,"y":1.1,"v":0.36},{"x":-8.3,"y":1.1,"v":0.36},{"x":-8.25,"y":1.1,"v":0.31},{"x":-8.2,"y":1.1,"v":0.31},{"x":-8.15,"y":1.1,"v":0.31},{"x":-8.1,"y":1.1,"v":0.31},{"x":-8.05,"y":1.1,"v":0.31},{"x":-8,"y":1.1,"v":0.31},{"x":-7.95,"y":1.1,"v":0.31},{"x":-7.9,"y":1.1,"v":0.31},{"x":-7.85,"y":1.1,"v":0.31},{"x":-7.8,"y":1.1,"v":0.31},{"x":-7.75,"y":1.1,"v":0.31},{"x":-7.7,"y":1.1,"v":0.42},{"x":-7.65,"y":1.1,"v":0.49},{"x":-7.6,"y":1.1,"v":0.63},{"x":-7.55,"y":1.1,"v":0.67},{"x":-7.5,"y":1.1,"v":0.7},{"x":-7.45,"y":1.1,"v":0.63},{"x":-7.4,"y":1.1,"v":0.65},{"x":-7.35,"y":1.1,"v":0.65},{"x":-7.3,"y":1.1,"v":0.63},{"x":-7.25,"y":1.1,"v":0.56},{"x":-7.2,"y":1.1,"v":0.44},{"x":-7.15,"y":1.1,"v":0.42},{"x":-7.1,"y":1.1,"v":0.42},{"x":-7.05,"y":1.1,"v":0.39},{"x":-7,"y":1.1,"v":0.31},{"x":-6.95,"y":1.1,"v":0.31},{"x":-6.9,"y":1.1,"v":0.31},{"x":-6.85,"y":1.1,"v":0.31},{"x":-6.8,"y":1.1,"v":0.31},{"x":-6.75,"y":1.1,"v":0.31},{"x":-6.7,"y":1.1,"v":0.31},{"x":-6.65,"y":1.1,"v":0.31},{"x":-6.6,"y":1.1,"v":0.31},{"x":-6.55,"y":1.1,"v":0.31},
{"x":-8.5,"y":1.15,"v":0.31},{"x":-8.45,"y":1.15,"v":0.31},{"x":-8.4,"y":1.15,"v":0.31},{"x":-8.35,"y":1.15,"v":0.31},{"x":-8.3,"y":1.15,"v":0.31},{"x":-8.25,"y":1.15,"v":0.31},{"x":-8.2,"y":1.15,"v":0.31},{"x":-8.15,"y":1.15,"v":0.31},{"x":-8.1,"y":1.15,"v":0.31},{"x":-8.05,"y":1.15,"v":0.31},{"x":-8,"y":1.15,"v":0.31},{"x":-7.95,"y":1.15,"v":0.31},{"x":-7.9,"y":1.15,"v":0.31},{"x":-7.85,"y":1.15,"v":0.31},{"x":-7.8,"y":1.15,"v":0.31},{"x":-7.75,"y":1.15,"v":0.31},{"x":-7.7,"y":1.15,"v":0.31},{"x":-7.65,"y":1.15,"v":0.39},{"x":-7.6,"y":1.15,"v":0.42},{"x":-7.55,"y":1.15,"v":0.54},{"x":-7.5,"y":1.15,"v":0.49},{"x":-7.45,"y":1.15,"v":0.49},{"x":-7.4,"y":1.15,"v":0.49},{"x":-7.35,"y":1.15,"v":0.49},{"x":-7.3,"y":1.15,"v":0.49},{"x":-7.25,"y":1.15,"v":0.49},{"x":-7.2,"y":1.15,"v":0.42},{"x":-7.15,"y":1.15,"v":0.36},{"x":-7.1,"y":1.15,"v":0.36},{"x":-7.05,"y":1.15,"v":0.36},{"x":-7,"y":1.15,"v":0.31},{"x":-6.95,"y":1.15,"v":0.31},{"x":-6.9,"y":1.15,"v":0.31},{"x":-6.85,"y":1.15,"v":0.31},{"x":-6.8,"y":1.15,"v":0.31},{"x":-6.75,"y":1.15,"v":0.31},{"x":-6.7,"y":1.15,"v":0.31},{"x":-6.65,"y":1.15,"v":0.31},{"x":-6.6,"y":1.15,"v":0.31},{"x":-6.55,"y":1.15,"v":0.31},
{"x":-8.5,"y":1.2,"v":0.31},{"x":-8.45,"y":1.2,"v":0.31},{"x":-8.4,"y":1.2,"v":0.31},{"x":-8.35,"y":1.2,"v":0.31},{"x":-8.3,"y":1.2,"v":0.31},{"x":-8.25,"y":1.2,"v":0.31},{"x":-8.2,"y":1.2,"v":0.31},{"x":-8.15,"y":1.2,"v":0.31},{"x":-8.1,"y":1.2,"v":0.31},{"x":-8.05,"y":1.2,"v":0.31},{"x":-8,"y":1.2,"v":0.31},{"x":-7.95,"y":1.2,"v":0.31},{"x":-7.9,"y":1.2,"v":0.31},{"x":-7.85,"y":1.2,"v":0.31},{"x":-7.8,"y":1.2,"v":0.31},{"x":-7.75,"y":1.2,"v":0.31},{"x":-7.7,"y":1.2,"v":0.31},{"x":-7.65,"y":1.2,"v":0.31},{"x":-7.6,"y":1.2,"v":0.39},{"x":-7.55,"y":1.2,"v":0.42},{"x":-7.5,"y":1.2,"v":0.49},{"x":-7.45,"y":1.2,"v":0.49},{"x":-7.4,"y":1.2,"v":0.44},{"x":-7.35,"y":1.2,"v":0.44},{"x":-7.3,"y":1.2,"v":0.44},{"x":-7.25,"y":1.2,"v":0.49},{"x":-7.2,"y":1.2,"v":0.39},{"x":-7.15,"y":1.2,"v":0.36},{"x":-7.1,"y":1.2,"v":0.36},{"x":-7.05,"y":1.2,"v":0.31},{"x":-7,"y":1.2,"v":0.31},{"x":-6.95,"y":1.2,"v":0.31},{"x":-6.9,"y":1.2,"v":0.31},{"x":-6.85,"y":1.2,"v":0.31},{"x":-6.8,"y":1.2,"v":0.31},{"x":-6.75,"y":1.2,"v":0.31},{"x":-6.7,"y":1.2,"v":0.31},{"x":-6.65,"y":1.2,"v":0.31},{"x":-6.6,"y":1.2,"v":0.31},{"x":-6.55,"y":1.2,"v":0.31},
{"x":-8.5,"y":1.25,"v":0.31},{"x":-8.45,"y":1.25,"v":0.31},{"x":-8.4,"y":1.25,"v":0.31},{"x":-8.35,"y":1.25,"v":0.31},{"x":-8.3,"y":1.25,"v":0.31},{"x":-8.25,"y":1.25,"v":0.31},{"x":-8.2,"y":1.25,"v":0.31},{"x":-8.15,"y":1.25,"v":0.31},{"x":-8.1,"y":1.25,"v":0.31},{"x":-8.05,"y":1.25,"v":0.31},{"x":-8,"y":1.25,"v":0.31},{"x":-7.95,"y":1.25,"v":0.31},{"x":-7.9,"y":1.25,"v":0.31},{"x":-7.85,"y":1.25,"v":0.31},{"x":-7.8,"y":1.25,"v":0.31},{"x":-7.75,"y":1.25,"v":0.31},{"x":-7.7,"y":1.25,"v":0.31},{"x":-7.65,"y":1.25,"v":0.31},{"x":-7.6,"y":1.25,"v":0.31},{"x":-7.55,"y":1.25,"v":0.39},{"x":-7.5,"y":1.25,"v":0.49},{"x":-7.45,"y":1.25,"v":0.42},{"x":-7.4,"y":1.25,"v":0.49},{"x":-7.35,"y":1.25,"v":0.49},{"x":-7.3,"y":1.25,"v":0.49},{"x":-7.25,"y":1.25,"v":0.49},{"x":-7.2,"y":1.25,"v":0.42},{"x":-7.15,"y":1.25,"v":0.36},{"x":-7.1,"y":1.25,"v":0.36},{"x":-7.05,"y":1.25,"v":0.31},{"x":-7,"y":1.25,"v":0.31},{"x":-6.95,"y":1.25,"v":0.31},{"x":-6.9,"y":1.25,"v":0.31},{"x":-6.85,"y":1.25,"v":0.31},{"x":-6.8,"y":1.25,"v":0.31},{"x":-6.75,"y":1.25,"v":0.31},{"x":-6.7,"y":1.25,"v":0.31},{"x":-6.65,"y":1.25,"v":0.31},{"x":-6.6,"y":1.25,"v":0.31},{"x":-6.55,"y":1.25,"v":0.31},
{"x":-8.5,"y":1.3,"v":0.31},{"x":-8.45,"y":1.3,"v":0.31},{"x":-8.4,"y":1.3,"v":0.31},{"x":-8.35,"y":1.3,"v":0.31},{"x":-8.3,"y":1.3,"v":0.31},{"x":-8.25,"y":1.3,"v":0.31},{"x":-8.2,"y":1.3,"v":0.31},{"x":-8.15,"y":1.3,"v":0.31},{"x":-8.1,"y":1.3,"v":0.31},{"x":-8.05,"y":1.3,"v":0.31},{"x":-8,"y":1.3,"v":0.31},{"x":-7.95,"y":1.3,"v":0.31},{"x":-7.9,"y":1.3,"v":0.31},{"x":-7.85,"y":1.3,"v":0.31},{"x":-7.8,"y":1.3,"v":0.31},{"x":-7.75,"y":1.3,"v":0.31},{"x":-7.7,"y":1.3,"v":0.31},{"x":-7.65,"y":1.3,"v":0.31},{"x":-7.6,"y":1.3,"v":0.31},{"x":-7.55,"y":1.3,"v":0.31},{"x":-7.5,"y":1.3,"v":0.36},{"x":-7.45,"y":1.3,"v":0.36},{"x":-7.4,"y":1.3,"v":0.39},{"x":-7.35,"y":1.3,"v":0.39},{"x":-7.3,"y":1.3,"v":0.39},{"x":-7.25,"y":1.3,"v":0.39},{"x":-7.2,"y":1.3,"v":0.36},{"x":-7.15,"y":1.3,"v":0.39},{"x":-7.1,"y":1.3,"v":0.39},{"x":-7.05,"y":1.3,"v":0.31},{"x":-7,"y":1.3,"v":0.31},{"x":-6.95,"y":1.3,"v":0.31},{"x":-6.9,"y":1.3,"v":0.31},{"x":-6.85,"y":1.3,"v":0.31},{"x":-6.8,"y":1.3,"v":0.31},{"x":-6.75,"y":1.3,"v":0.31},{"x":-6.7,"y":1.3,"v":0.31},{"x":-6.65,"y":1.3,"v":0.31},{"x":-6.6,"y":1.3,"v":0.31},{"x":-6.55,"y":1.3,"v":0.31},
{"x":-8.5,"y":1.35,"v":0.31},{"x":-8.45,"y":1.35,"v":0.31},{"x":-8.4,"y":1.35,"v":0.31},{"x":-8.35,"y":1.35,"v":0.31},{"x":-8.3,"y":1.35,"v":0.31},{"x":-8.25,"y":1.35,"v":0.31},{"x":-8.2,"y":1.35,"v":0.31},{"x":-8.15,"y":1.35,"v":0.31},{"x":-8.1,"y":1.35,"v":0.31},{"x":-8.05,"y":1.35,"v":0.31},{"x":-8,"y":1.35,"v":0.31},{"x":-7.95,"y":1.35,"v":0.25},{"x":-7.9,"y":1.35,"v":0.25},{"x":-7.85,"y":1.35,"v":0.25},{"x":-7.8,"y":1.35,"v":0.25},{"x":-7.75,"y":1.35,"v":0.25},{"x":-7.7,"y":1.35,"v":0.25},{"x":-7.65,"y":1.35,"v":0.25},{"x":-7.6,"y":1.35,"v":0.25},{"x":-7.55,"y":1.35,"v":0.25},{"x":-7.5,"y":1.35,"v":0.31},{"x":-7.45,"y":1.35,"v":0.31},{"x":-7.4,"y":1.35,"v":0.39},{"x":-7.35,"y":1.35,"v":0.42},{"x":-7.3,"y":1.35,"v":0.42},{"x":-7.25,"y":1.35,"v":0.42},{"x":-7.2,"y":1.35,"v":0.44},{"x":-7.15,"y":1.35,"v":0.39},{"x":-7.1,"y":1.35,"v":0.39},{"x":-7.05,"y":1.35,"v":0.31},{"x":-7,"y":1.35,"v":0.31},{"x":-6.95,"y":1.35,"v":0.31},{"x":-6.9,"y":1.35,"v":0.31},{"x":-6.85,"y":1.35,"v":0.31},{"x":-6.8,"y":1.35,"v":0.31},{"x":-6.75,"y":1.35,"v":0.31},{"x":-6.7,"y":1.35,"v":0.31},{"x":-6.65,"y":1.35,"v":0.31},{"x":-6.6,"y":1.35,"v":0.31},{"x":-6.55,"y":1.35,"v":0.31},
{"x":-8.5,"y":1.4,"v":0.31},{"x":-8.45,"y":1.4,"v":0.31},{"x":-8.4,"y":1.4,"v":0.31},{"x":-8.35,"y":1.4,"v":0.31},{"x":-8.3,"y":1.4,"v":0.31},{"x":-8.25,"y":1.4,"v":0.31},{"x":-8.2,"y":1.4,"v":0.31},{"x":-8.15,"y":1.4,"v":0.31},{"x":-8.1,"y":1.4,"v":0.31},{"x":-8.05,"y":1.4,"v":0.31},{"x":-8,"y":1.4,"v":0.31},{"x":-7.95,"y":1.4,"v":0.25},{"x":-7.9,"y":1.4,"v":0.25},{"x":-7.85,"y":1.4,"v":0.25},{"x":-7.8,"y":1.4,"v":0.25},{"x":-7.75,"y":1.4,"v":0.25},{"x":-7.7,"y":1.4,"v":0.21},{"x":-7.65,"y":1.4,"v":0.21},{"x":-7.6,"y":1.4,"v":0.25},{"x":-7.55,"y":1.4,"v":0.25},{"x":-7.5,"y":1.4,"v":0.31},{"x":-7.45,"y":1.4,"v":0.31},{"x":-7.4,"y":1.4,"v":0.31},{"x":-7.35,"y":1.4,"v":0.36},{"x":-7.3,"y":1.4,"v":0.36},{"x":-7.25,"y":1.4,"v":0.39},{"x":-7.2,"y":1.4,"v":0.39},{"x":-7.15,"y":1.4,"v":0.39},{"x":-7.1,"y":1.4,"v":0.31},{"x":-7.05,"y":1.4,"v":0.31},{"x":-7,"y":1.4,"v":0.31},{"x":-6.95,"y":1.4,"v":0.31},{"x":-6.9,"y":1.4,"v":0.31},{"x":-6.85,"y":1.4,"v":0.31},{"x":-6.8,"y":1.4,"v":0.31},{"x":-6.75,"y":1.4,"v":0.31},{"x":-6.7,"y":1.4,"v":0.31},{"x":-6.65,"y":1.4,"v":0.31},{"x":-6.6,"y":1.4,"v":0.31},{"x":-6.55,"y":1.4,"v":0.31},
{"x":-8.5,"y":1.45,"v":0.31},{"x":-8.45,"y":1.45,"v":0.31},{"x":-8.4,"y":1.45,"v":0.31},{"x":-8.35,"y":1.45,"v":0.31},{"x":-8.3,"y":1.45,"v":0.31},{"x":-8.25,"y":1.45,"v":0.31},{"x":-8.2,"y":1.45,"v":0.31},{"x":-8.15,"y":1.45,"v":0.31},{"x":-8.1,"y":1.45,"v":0.31},{"x":-8.05,"y":1.45,"v":0.31},{"x":-8,"y":1.45,"v":0.31},{"x":-7.95,"y":1.45,"v":0.25},{"x":-7.9,"y":1.45,"v":0.25},{"x":-7.85,"y":1.45,"v":0.25},{"x":-7.8,"y":1.45,"v":0.25},{"x":-7.75,"y":1.45,"v":0.25},{"x":-7.7,"y":1.45,"v":0.25},{"x":-7.65,"y":1.45,"v":0.31},{"x":-7.6,"y":1.45,"v":0.31},{"x":-7.55,"y":1.45,"v":0.31},{"x":-7.5,"y":1.45,"v":0.31},{"x":-7.45,"y":1.45,"v":0.31},{"x":-7.4,"y":1.45,"v":0.36},{"x":-7.35,"y":1.45,"v":0.39},{"x":-7.3,"y":1.45,"v":0.39},{"x":-7.25,"y":1.45,"v":0.39},{"x":-7.2,"y":1.45,"v":0.39},{"x":-7.15,"y":1.45,"v":0.39},{"x":-7.1,"y":1.45,"v":0.39},{"x":-7.05,"y":1.45,"v":0.31},{"x":-7,"y":1.45,"v":0.31},{"x":-6.95,"y":1.45,"v":0.31},{"x":-6.9,"y":1.45,"v":0.31},{"x":-6.85,"y":1.45,"v":0.36},{"x":-6.8,"y":1.45,"v":0.31},{"x":-6.75,"y":1.45,"v":0.31},{"x":-6.7,"y":1.45,"v":0.31},{"x":-6.65,"y":1.45,"v":0.31},{"x":-6.6,"y":1.45,"v":0.31},{"x":-6.55,"y":1.45,"v":0.31},
{"x":-8.5,"y":1.5,"v":0.31},{"x":-8.45,"y":1.5,"v":0.31},{"x":-8.4,"y":1.5,"v":0.25},{"x":-8.35,"y":1.5,"v":0.31},{"x":-8.3,"y":1.5,"v":0.31},{"x":-8.25,"y":1.5,"v":0.31},{"x":-8.2,"y":1.5,"v":0.31},{"x":-8.15,"y":1.5,"v":0.31},{"x":-8.1,"y":1.5,"v":0.31},{"x":-8.05,"y":1.5,"v":0.31},{"x":-8,"y":1.5,"v":0.31},{"x":-7.95,"y":1.5,"v":0.31},{"x":-7.9,"y":1.5,"v":0.31},{"x":-7.85,"y":1.5,"v":0.31},{"x":-7.8,"y":1.5,"v":0.31},{"x":-7.75,"y":1.5,"v":0.31},{"x":-7.7,"y":1.5,"v":0.31},{"x":-7.65,"y":1.5,"v":0.31},{"x":-7.6,"y":1.5,"v":0.31},{"x":-7.55,"y":1.5,"v":0.31},{"x":-7.5,"y":1.5,"v":0.31},{"x":-7.45,"y":1.5,"v":0.31},{"x":-7.4,"y":1.5,"v":0.36},{"x":-7.35,"y":1.5,"v":0.42},{"x":-7.3,"y":1.5,"v":0.39},{"x":-7.25,"y":1.5,"v":0.42},{"x":-7.2,"y":1.5,"v":0.42},{"x":-7.15,"y":1.5,"v":0.42},{"x":-7.1,"y":1.5,"v":0.39},{"x":-7.05,"y":1.5,"v":0.39},{"x":-7,"y":1.5,"v":0.31},{"x":-6.95,"y":1.5,"v":0.31},{"x":-6.9,"y":1.5,"v":0.31},{"x":-6.85,"y":1.5,"v":0.31},{"x":-6.8,"y":1.5,"v":0.31},{"x":-6.75,"y":1.5,"v":0.31},{"x":-6.7,"y":1.5,"v":0.31},{"x":-6.65,"y":1.5,"v":0.31},{"x":-6.6,"y":1.5,"v":0.31},{"x":-6.55,"y":1.5,"v":0.31},
{"x":-8.5,"y":1.55,"v":0.31},{"x":-8.45,"y":1.55,"v":0.31},{"x":-8.4,"y":1.55,"v":0.31},{"x":-8.35,"y":1.55,"v":0.31},{"x":-8.3,"y":1.55,"v":0.31},{"x":-8.25,"y":1.55,"v":0.31},{"x":-8.2,"y":1.55,"v":0.36},{"x":-8.15,"y":1.55,"v":0.36},{"x":-8.1,"y":1.55,"v":0.31},{"x":-8.05,"y":1.55,"v":0.39},{"x":-8,"y":1.55,"v":0.39},{"x":-7.95,"y":1.55,"v":0.39},{"x":-7.9,"y":1.55,"v":0.36},{"x":-7.85,"y":1.55,"v":0.31},{"x":-7.8,"y":1.55,"v":0.31},{"x":-7.75,"y":1.55,"v":0.31},{"x":-7.7,"y":1.55,"v":0.31},{"x":-7.65,"y":1.55,"v":0.31},{"x":-7.6,"y":1.55,"v":0.31},{"x":-7.55,"y":1.55,"v":0.31},{"x":-7.5,"y":1.55,"v":0.31},{"x":-7.45,"y":1.55,"v":0.31},{"x":-7.4,"y":1.55,"v":0.39},{"x":-7.35,"y":1.55,"v":0.39},{"x":-7.3,"y":1.55,"v":0.36},{"x":-7.25,"y":1.55,"v":0.39},{"x":-7.2,"y":1.55,"v":0.39},{"x":-7.15,"y":1.55,"v":0.36},{"x":-7.1,"y":1.55,"v":0.36},{"x":-7.05,"y":1.55,"v":0.36},{"x":-7,"y":1.55,"v":0.31},{"x":-6.95,"y":1.55,"v":0.36},{"x":-6.9,"y":1.55,"v":0.31},{"x":-6.85,"y":1.55,"v":0.36},{"x":-6.8,"y":1.55,"v":0.36},{"x":-6.75,"y":1.55,"v":0.31},{"x":-6.7,"y":1.55,"v":0.39},{"x":-6.65,"y":1.55,"v":0.36},{"x":-6.6,"y":1.55,"v":0.36},{"x":-6.55,"y":1.55,"v":0.31},
{"x":-8.5,"y":1.6,"v":0.31},{"x":-8.45,"y":1.6,"v":0.31},{"x":-8.4,"y":1.6,"v":0.31},{"x":-8.35,"y":1.6,"v":0.31},{"x":-8.3,"y":1.6,"v":0.31},{"x":-8.25,"y":1.6,"v":0.36},{"x":-8.2,"y":1.6,"v":0.36},{"x":-8.15,"y":1.6,"v":0.39},{"x":-8.1,"y":1.6,"v":0.44},{"x":-8.05,"y":1.6,"v":0.44},{"x":-8,"y":1.6,"v":0.44},{"x":-7.95,"y":1.6,"v":0.44},{"x":-7.9,"y":1.6,"v":0.42},{"x":-7.85,"y":1.6,"v":0.39},{"x":-7.8,"y":1.6,"v":0.39},{"x":-7.75,"y":1.6,"v":0.36},{"x":-7.7,"y":1.6,"v":0.31},{"x":-7.65,"y":1.6,"v":0.31},{"x":-7.6,"y":1.6,"v":0.31},{"x":-7.55,"y":1.6,"v":0.31},{"x":-7.5,"y":1.6,"v":0.31},{"x":-7.45,"y":1.6,"v":0.31},{"x":-7.4,"y":1.6,"v":0.36},{"x":-7.35,"y":1.6,"v":0.39},{"x":-7.3,"y":1.6,"v":0.39},{"x":-7.25,"y":1.6,"v":0.49},{"x":-7.2,"y":1.6,"v":0.42},{"x":-7.15,"y":1.6,"v":0.42},{"x":-7.1,"y":1.6,"v":0.44},{"x":-7.05,"y":1.6,"v":0.39},{"x":-7,"y":1.6,"v":0.39},{"x":-6.95,"y":1.6,"v":0.39},{"x":-6.9,"y":1.6,"v":0.39},{"x":-6.85,"y":1.6,"v":0.39},{"x":-6.8,"y":1.6,"v":0.31},{"x":-6.75,"y":1.6,"v":0.31},{"x":-6.7,"y":1.6,"v":0.31},{"x":-6.65,"y":1.6,"v":0.39},{"x":-6.6,"y":1.6,"v":0.39},{"x":-6.55,"y":1.6,"v":0.36},
{"x":-8.5,"y":1.65,"v":0.31},{"x":-8.45,"y":1.65,"v":0.31},{"x":-8.4,"y":1.65,"v":0.31},{"x":-8.35,"y":1.65,"v":0.31},{"x":-8.3,"y":1.65,"v":0.39},{"x":-8.25,"y":1.65,"v":0.39},{"x":-8.2,"y":1.65,"v":0.42},{"x":-8.15,"y":1.65,"v":0.49},{"x":-8.1,"y":1.65,"v":0.49},{"x":-8.05,"y":1.65,"v":0.49},{"x":-8,"y":1.65,"v":0.54},{"x":-7.95,"y":1.65,"v":0.56},{"x":-7.9,"y":1.65,"v":0.49},{"x":-7.85,"y":1.65,"v":0.49},{"x":-7.8,"y":1.65,"v":0.42},{"x":-7.75,"y":1.65,"v":0.39},{"x":-7.7,"y":1.65,"v":0.36},{"x":-7.65,"y":1.65,"v":0.31},{"x":-7.6,"y":1.65,"v":0.31},{"x":-7.55,"y":1.65,"v":0.31},{"x":-7.5,"y":1.65,"v":0.31},{"x":-7.45,"y":1.65,"v":0.36},{"x":-7.4,"y":1.65,"v":0.39},{"x":-7.35,"y":1.65,"v":0.42},{"x":-7.3,"y":1.65,"v":0.44},{"x":-7.25,"y":1.65,"v":0.49},{"x":-7.2,"y":1.65,"v":0.49},{"x":-7.15,"y":1.65,"v":0.44},{"x":-7.1,"y":1.65,"v":0.42},{"x":-7.05,"y":1.65,"v":0.39},{"x":-7,"y":1.65,"v":0.36},{"x":-6.95,"y":1.65,"v":0.36},{"x":-6.9,"y":1.65,"v":0.25},{"x":-6.85,"y":1.65,"v":0.25},{"x":-6.8,"y":1.65,"v":0.25},{"x":-6.75,"y":1.65,"v":0.25},{"x":-6.7,"y":1.65,"v":0.31},{"x":-6.65,"y":1.65,"v":0.31},{"x":-6.6,"y":1.65,"v":0.31},{"x":-6.55,"y":1.65,"v":0.31},
{"x":-8.5,"y":1.7,"v":0.36},{"x":-8.45,"y":1.7,"v":0.31},{"x":-8.4,"y":1.7,"v":0.31},{"x":-8.35,"y":1.7,"v":0.31},{"x":-8.3,"y":1.7,"v":0.39},{"x":-8.25,"y":1.7,"v":0.39},{"x":-8.2,"y":1.7,"v":0.44},{"x":-8.15,"y":1.7,"v":0.42},{"x":-8.1,"y":1.7,"v":0.54},{"x":-8.05,"y":1.7,"v":0.56},{"x":-8,"y":1.7,"v":0.56},{"x":-7.95,"y":1.7,"v":0.6},{"x":-7.9,"y":1.7,"v":0.56},{"x":-7.85,"y":1.7,"v":0.56},{"x":-7.8,"y":1.7,"v":0.49},{"x":-7.75,"y":1.7,"v":0.49},{"x":-7.7,"y":1.7,"v":0.42},{"x":-7.65,"y":1.7,"v":0.39},{"x":-7.6,"y":1.7,"v":0.36},{"x":-7.55,"y":1.7,"v":0.36},{"x":-7.5,"y":1.7,"v":0.36},{"x":-7.45,"y":1.7,"v":0.36},{"x":-7.4,"y":1.7,"v":0.36},{"x":-7.35,"y":1.7,"v":0.39},{"x":-7.3,"y":1.7,"v":0.49},{"x":-7.25,"y":1.7,"v":0.49},{"x":-7.2,"y":1.7,"v":0.49},{"x":-7.15,"y":1.7,"v":0.42},{"x":-7.1,"y":1.7,"v":0.44},{"x":-7.05,"y":1.7,"v":0.39},{"x":-7,"y":1.7,"v":0.36},{"x":-6.95,"y":1.7,"v":0.36},{"x":-6.9,"y":1.7,"v":0.36},{"x":-6.85,"y":1.7,"v":0.39},{"x":-6.8,"y":1.7,"v":0.31},{"x":-6.75,"y":1.7,"v":0.31},{"x":-6.7,"y":1.7,"v":0.31},{"x":-6.65,"y":1.7,"v":0.39},{"x":-6.6,"y":1.7,"v":0.36},{"x":-6.55,"y":1.7,"v":0.36},
{"x":-8.5,"y":1.75,"v":0.36},{"x":-8.45,"y":1.75,"v":0.36},{"x":-8.4,"y":1.75,"v":0.39},{"x":-8.35,"y":1.75,"v":0.39},{"x":-8.3,"y":1.75,"v":0.42},{"x":-8.25,"y":1.75,"v":0.49},{"x":-8.2,"y":1.75,"v":0.49},{"x":-8.15,"y":1.75,"v":0.6},{"x":-8.1,"y":1.75,"v":0.63},{"x":-8.05,"y":1.75,"v":0.7},{"x":-8,"y":1.75,"v":0.7},{"x":-7.95,"y":1.75,"v":0.7},{"x":-7.9,"y":1.75,"v":0.7},{"x":-7.85,"y":1.75,"v":0.63},{"x":-7.8,"y":1.75,"v":0.49},{"x":-7.75,"y":1.75,"v":0.49},{"x":-7.7,"y":1.75,"v":0.42},{"x":-7.65,"y":1.75,"v":0.39},{"x":-7.6,"y":1.75,"v":0.36},{"x":-7.55,"y":1.75,"v":0.36},{"x":-7.5,"y":1.75,"v":0.36},{"x":-7.45,"y":1.75,"v":0.36},{"x":-7.4,"y":1.75,"v":0.42},{"x":-7.35,"y":1.75,"v":0.44},{"x":-7.3,"y":1.75,"v":0.49},{"x":-7.25,"y":1.75,"v":0.49},{"x":-7.2,"y":1.75,"v":0.49},{"x":-7.15,"y":1.75,"v":0.49},{"x":-7.1,"y":1.75,"v":0.49},{"x":-7.05,"y":1.75,"v":0.49},{"x":-7,"y":1.75,"v":0.44},{"x":-6.95,"y":1.75,"v":0.42},{"x":-6.9,"y":1.75,"v":0.39},{"x":-6.85,"y":1.75,"v":0.39},{"x":-6.8,"y":1.75,"v":0.39},{"x":-6.75,"y":1.75,"v":0.36},{"x":-6.7,"y":1.75,"v":0.36},{"x":-6.65,"y":1.75,"v":0.39},{"x":-6.6,"y":1.75,"v":0.36},{"x":-6.55,"y":1.75,"v":0.31},
{"x":-8.5,"y":1.8,"v":0.54},{"x":-8.45,"y":1.8,"v":0.36},{"x":-8.4,"y":1.8,"v":0.39},{"x":-8.35,"y":1.8,"v":0.39},{"x":-8.3,"y":1.8,"v":0.44},{"x":-8.25,"y":1.8,"v":0.49},{"x":-8.2,"y":1.8,"v":0.42},{"x":-8.15,"y":1.8,"v":0.56},{"x":-8.1,"y":1.8,"v":0.7},{"x":-8.05,"y":1.8,"v":0.67},{"x":-8,"y":1.8,"v":0.74},{"x":-7.95,"y":1.8,"v":0.76},{"x":-7.9,"y":1.8,"v":0.74},{"x":-7.85,"y":1.8,"v":0.67},{"x":-7.8,"y":1.8,"v":0.6},{"x":-7.75,"y":1.8,"v":0.49},{"x":-7.7,"y":1.8,"v":0.49},{"x":-7.65,"y":1.8,"v":0.42},{"x":-7.6,"y":1.8,"v":0.36},{"x":-7.55,"y":1.8,"v":0.36},{"x":-7.5,"y":1.8,"v":0.36},{"x":-7.45,"y":1.8,"v":0.36},{"x":-7.4,"y":1.8,"v":0.49},{"x":-7.35,"y":1.8,"v":0.49},{"x":-7.3,"y":1.8,"v":0.49},{"x":-7.25,"y":1.8,"v":0.49},{"x":-7.2,"y":1.8,"v":0.49},{"x":-7.15,"y":1.8,"v":0.49},{"x":-7.1,"y":1.8,"v":0.49},{"x":-7.05,"y":1.8,"v":0.49},{"x":-7,"y":1.8,"v":0.49},{"x":-6.95,"y":1.8,"v":0.49},{"x":-6.9,"y":1.8,"v":0.42},{"x":-6.85,"y":1.8,"v":0.42},{"x":-6.8,"y":1.8,"v":0.39},{"x":-6.75,"y":1.8,"v":0.39},{"x":-6.7,"y":1.8,"v":0.39},{"x":-6.65,"y":1.8,"v":0.39},{"x":-6.6,"y":1.8,"v":0.39},{"x":-6.55,"y":1.8,"v":0.36},
{"x":-8.5,"y":1.85,"v":0.54},{"x":-8.45,"y":1.85,"v":0.39},{"x":-8.4,"y":1.85,"v":0.36},{"x":-8.35,"y":1.85,"v":0.39},{"x":-8.3,"y":1.85,"v":0.49},{"x":-8.25,"y":1.85,"v":0.49},{"x":-8.2,"y":1.85,"v":0.56},{"x":-8.15,"y":1.85,"v":0.67},{"x":-8.1,"y":1.85,"v":0.67},{"x":-8.05,"y":1.85,"v":0.67},{"x":-8,"y":1.85,"v":0.8},{"x":-7.95,"y":1.85,"v":0.8},{"x":-7.9,"y":1.85,"v":0.72},{"x":-7.85,"y":1.85,"v":0.67},{"x":-7.8,"y":1.85,"v":0.63},{"x":-7.75,"y":1.85,"v":0.6},{"x":-7.7,"y":1.85,"v":0.49},{"x":-7.65,"y":1.85,"v":0.49},{"x":-7.6,"y":1.85,"v":0.42},{"x":-7.55,"y":1.85,"v":0.42},{"x":-7.5,"y":1.85,"v":0.42},{"x":-7.45,"y":1.85,"v":0.42},{"x":-7.4,"y":1.85,"v":0.49},{"x":-7.35,"y":1.85,"v":0.49},{"x":-7.3,"y":1.85,"v":0.49},{"x":-7.25,"y":1.85,"v":0.49},{"x":-7.2,"y":1.85,"v":0.44},{"x":-7.15,"y":1.85,"v":0.44},{"x":-7.1,"y":1.85,"v":0.56},{"x":-7.05,"y":1.85,"v":0.44},{"x":-7,"y":1.85,"v":0.44},{"x":-6.95,"y":1.85,"v":0.49},{"x":-6.9,"y":1.85,"v":0.49},{"x":-6.85,"y":1.85,"v":0.42},{"x":-6.8,"y":1.85,"v":0.39},{"x":-6.75,"y":1.85,"v":0.39},{"x":-6.7,"y":1.85,"v":0.39},{"x":-6.65,"y":1.85,"v":0.39},{"x":-6.6,"y":1.85,"v":0.36},{"x":-6.55,"y":1.85,"v":0.36},
{"x":-8.5,"y":1.9,"v":0.42},{"x":-8.45,"y":1.9,"v":0.36},{"x":-8.4,"y":1.9,"v":0.39},{"x":-8.35,"y":1.9,"v":0.39},{"x":-8.3,"y":1.9,"v":0.49},{"x":-8.25,"y":1.9,"v":0.49},{"x":-8.2,"y":1.9,"v":0.56},{"x":-8.15,"y":1.9,"v":0.67},{"x":-8.1,"y":1.9,"v":0.67},{"x":-8.05,"y":1.9,"v":0.67},{"x":-8,"y":1.9,"v":0.8},{"x":-7.95,"y":1.9,"v":0.8},{"x":-7.9,"y":1.9,"v":0.72},{"x":-7.85,"y":1.9,"v":0.72},{"x":-7.8,"y":1.9,"v":0.65},{"x":-7.75,"y":1.9,"v":0.6},{"x":-7.7,"y":1.9,"v":0.49},{"x":-7.65,"y":1.9,"v":0.49},{"x":-7.6,"y":1.9,"v":0.39},{"x":-7.55,"y":1.9,"v":0.39},{"x":-7.5,"y":1.9,"v":0.39},{"x":-7.45,"y":1.9,"v":0.39},{"x":-7.4,"y":1.9,"v":0.39},{"x":-7.35,"y":1.9,"v":0.42},{"x":-7.3,"y":1.9,"v":0.49},{"x":-7.25,"y":1.9,"v":0.44},{"x":-7.2,"y":1.9,"v":0.49},{"x":-7.15,"y":1.9,"v":0.49},{"x":-7.1,"y":1.9,"v":0.49},{"x":-7.05,"y":1.9,"v":0.49},{"x":-7,"y":1.9,"v":0.49},{"x":-6.95,"y":1.9,"v":0.49},{"x":-6.9,"y":1.9,"v":0.49},{"x":-6.85,"y":1.9,"v":0.44},{"x":-6.8,"y":1.9,"v":0.39},{"x":-6.75,"y":1.9,"v":0.36},{"x":-6.7,"y":1.9,"v":0.36},{"x":-6.65,"y":1.9,"v":0.39},{"x":-6.6,"y":1.9,"v":0.39},{"x":-6.55,"y":1.9,"v":0.36},
{"x":-8.5,"y":1.95,"v":0.42},{"x":-8.45,"y":1.95,"v":0.36},{"x":-8.4,"y":1.95,"v":0.39},{"x":-8.35,"y":1.95,"v":0.39},{"x":-8.3,"y":1.95,"v":0.42},{"x":-8.25,"y":1.95,"v":0.49},{"x":-8.2,"y":1.95,"v":0.44},{"x":-8.15,"y":1.95,"v":0.56},{"x":-8.1,"y":1.95,"v":0.63},{"x":-8.05,"y":1.95,"v":0.7},{"x":-8,"y":1.95,"v":0.7},{"x":-7.95,"y":1.95,"v":0.7},{"x":-7.9,"y":1.95,"v":0.67},{"x":-7.85,"y":1.95,"v":0.63},{"x":-7.8,"y":1.95,"v":0.6},{"x":-7.75,"y":1.95,"v":0.44},{"x":-7.7,"y":1.95,"v":0.44},{"x":-7.65,"y":1.95,"v":0.39},{"x":-7.6,"y":1.95,"v":0.36},{"x":-7.55,"y":1.95,"v":0.36},{"x":-7.5,"y":1.95,"v":0.36},{"x":-7.45,"y":1.95,"v":0.36},{"x":-7.4,"y":1.95,"v":0.36},{"x":-7.35,"y":1.95,"v":0.39},{"x":-7.3,"y":1.95,"v":0.36},{"x":-7.25,"y":1.95,"v":0.42},{"x":-7.2,"y":1.95,"v":0.49},{"x":-7.15,"y":1.95,"v":0.49},{"x":-7.1,"y":1.95,"v":0.44},{"x":-7.05,"y":1.95,"v":0.49},{"x":-7,"y":1.95,"v":0.49},{"x":-6.95,"y":1.95,"v":0.49},{"x":-6.9,"y":1.95,"v":0.49},{"x":-6.85,"y":1.95,"v":0.44},{"x":-6.8,"y":1.95,"v":0.39},{"x":-6.75,"y":1.95,"v":0.36},{"x":-6.7,"y":1.95,"v":0.36},{"x":-6.65,"y":1.95,"v":0.39},{"x":-6.6,"y":1.95,"v":0.36},{"x":-6.55,"y":1.95,"v":0.36}
]},"mark":{"type":"rect","width":7.7,"height":7.3,"clip":true},"encoding":{"x":{"field":"x","type":"quantitative","scale":{"domain":[-8.525,-6.525],"nice":false,"zero":false},"axis":{"orient":"bottom","values":[-8.5,-8,-7.5,-7],"format":".1f","title":null,"tickSize":-3,"labelFontSize":18,"labelPadding":7,"zindex":1,"domainColor":"#333","tickColor":"#333"}},"y":{"field":"y","type":"quantitative","scale":{"domain":[-0.025,1.975],"reverse":true,"nice":false,"zero":false},"axis":{"orient":"left","values":[0,0.2,0.4,0.6,0.8,1,1.2,1.4,1.6,1.8],"format":".1f","title":null,"tickSize":-3,"labelFontSize":18,"labelPadding":6,"zindex":1,"domainColor":"#333","tickColor":"#333"}},"color":{"field":"v","type":"quantitative","legend":null,"scale":{"type":"threshold","domain":[0.222,0.276,0.35,0.377,0.413,0.437,0.45,0.526,0.551,0.576,0.623,0.638,0.663,0.68,0.713,0.726,0.75,0.777,0.814,0.837,0.927,0.95,0.963],"range":["#2a2472","#2e3296","#23409f","#0a58aa","#0a78c0","#0a9cc0","#12b0b0","#4cc5dc","#00b4b4","#5cb96c","#78bf66","#a2c840","#bcd52f","#d9e01f","#fbec05","#e6dc1a","#e0bd2a","#e69a2a","#e8752a","#e8492a","#ee1c25","#c01f2c","#8e1a20","#6e0f14"]}}}},{"data":{"values":[{"x":-8.5,"y":0}]},"mark":{"type":"point","opacity":0},"encoding":{"x":{"field":"x","type":"quantitative","axis":{"orient":"top","values":[-8.5,-8,-7.5,-7],"labels":false,"title":null,"tickSize":-3,"zindex":1,"domainColor":"#333","tickColor":"#333"}},"y":{"field":"y","type":"quantitative","axis":{"orient":"right","values":[0,0.2,0.4,0.6,0.8,1,1.2,1.4,1.6,1.8],"labels":false,"title":null,"tickSize":-3,"zindex":1,"domainColor":"#333","tickColor":"#333"}}}},{"data":{"values":[{"x":-7.487}]},"mark":{"type":"rule","color":"white","strokeWidth":2.6,"strokeDash":[8,5]},"encoding":{"x":{"field":"x","type":"quantitative","axis":null}}},{"data":{"values":[{"x":-8.425,"y":0.063,"t":"(a)"}]},"mark":{"type":"text","fontSize":18,"align":"left","color":"#1a1a1a"},"encoding":{"x":{"field":"x","type":"quantitative","axis":null},"y":{"field":"y","type":"quantitative","axis":null},"text":{"field":"t"}}}],"resolve":{"axis":{"x":"independent","y":"independent"}}},{"width":21,"height":272,"view":{"stroke":"#333"},"data":{"values":[{"lo":0.2,"hi":0.222,"v":0.21},{"lo":0.222,"hi":0.276,"v":0.25},{"lo":0.276,"hi":0.35,"v":0.31},{"lo":0.35,"hi":0.377,"v":0.36},{"lo":0.377,"hi":0.413,"v":0.39},{"lo":0.413,"hi":0.437,"v":0.42},{"lo":0.437,"hi":0.45,"v":0.44},{"lo":0.45,"hi":0.526,"v":0.49},{"lo":0.526,"hi":0.551,"v":0.54},{"lo":0.551,"hi":0.576,"v":0.56},{"lo":0.576,"hi":0.623,"v":0.6},{"lo":0.623,"hi":0.638,"v":0.63},{"lo":0.638,"hi":0.663,"v":0.65},{"lo":0.663,"hi":0.68,"v":0.67},{"lo":0.68,"hi":0.713,"v":0.7},{"lo":0.713,"hi":0.726,"v":0.72},{"lo":0.726,"hi":0.75,"v":0.74},{"lo":0.75,"hi":0.777,"v":0.76},{"lo":0.777,"hi":0.814,"v":0.8},{"lo":0.814,"hi":0.837,"v":0.82},{"lo":0.837,"hi":0.927,"v":0.88},{"lo":0.927,"hi":0.95,"v":0.94},{"lo":0.95,"hi":0.963,"v":0.955},{"lo":0.963,"hi":1,"v":0.98}]},"mark":{"type":"rect"},"encoding":{"y":{"field":"lo","type":"quantitative","scale":{"domain":[0.2,1],"nice":false,"zero":false},"axis":{"orient":"right","values":[0.2,0.3,0.4,0.5,0.6,0.7,0.8,0.9,1],"format":".1f","title":null,"tickSize":-3,"labelFontSize":15,"labelPadding":5,"zindex":1,"domainColor":"#333","tickColor":"#222"}},"y2":{"field":"hi"},"color":{"field":"v","type":"quantitative","legend":null,"scale":{"type":"threshold","domain":[0.222,0.276,0.35,0.377,0.413,0.437,0.45,0.526,0.551,0.576,0.623,0.638,0.663,0.68,0.713,0.726,0.75,0.777,0.814,0.837,0.927,0.95,0.963],"range":["#2a2472","#2e3296","#23409f","#0a58aa","#0a78c0","#0a9cc0","#12b0b0","#4cc5dc","#00b4b4","#5cb96c","#78bf66","#a2c840","#bcd52f","#d9e01f","#fbec05","#e6dc1a","#e0bd2a","#e69a2a","#e8752a","#e8492a","#ee1c25","#c01f2c","#8e1a20","#6e0f14"]}}}},{"width":327,"height":238,"layer":[{"data":{"values":[{"x":0,"y":0.01},{"x":0.05,"y":0.03},{"x":0.1,"y":0.08},{"x":0.15,"y":0},{"x":0.2,"y":0.005},{"x":0.25,"y":0.04},{"x":0.3,"y":0.02},{"x":0.35,"y":0.068},{"x":0.4,"y":0.11},{"x":0.45,"y":0.17},{"x":0.5,"y":0.293},{"x":0.55,"y":0.362},{"x":0.6,"y":0.458},{"x":0.65,"y":0.636},{"x":0.7,"y":0.714},{"x":0.75,"y":0.84},{"x":0.8,"y":0.86},{"x":0.85,"y":1},{"x":0.9,"y":0.94},{"x":0.95,"y":0.92},{"x":1,"y":0.87},{"x":1.05,"y":0.775},{"x":1.1,"y":0.602},{"x":1.15,"y":0.369},{"x":1.2,"y":0.277},{"x":1.25,"y":0.276},{"x":1.3,"y":0.154},{"x":1.35,"y":0.1},{"x":1.4,"y":0.019},{"x":1.45,"y":0.074},{"x":1.5,"y":0.08},{"x":1.55,"y":0.069},{"x":1.6,"y":0.064},{"x":1.65,"y":0.113},{"x":1.7,"y":0.135},{"x":1.75,"y":0.178},{"x":1.8,"y":0.205},{"x":1.85,"y":0.267},{"x":1.9,"y":0.201},{"x":1.95,"y":0.122}]},"mark":{"type":"square","size":34,"color":"black","opacity":1},"encoding":{"x":{"field":"x","type":"quantitative","scale":{"domain":[-0.25,2.25],"range":[7,327],"nice":false,"zero":false},"axis":{"values":[0,0.5,1,1.5,2],"format":".1f","title":"Position/µm","titleFontSize":19,"titlePadding":2,"tickSize":5,"tickColor":"#111","domainColor":"#111","domainWidth":1.2,"tickWidth":1.2,"labelFontSize":18.5,"labelPadding":4}},"y":{"field":"y","type":"quantitative","scale":{"domain":[-0.1,1.1],"nice":false,"zero":false},"axis":{"offset":-7,"values":[0,0.2,0.4,0.6,0.8,1],"format":".1f","title":"Intensity/a.u.","titleFontSize":19.5,"titleX":-41,"titleY":104,"tickSize":5,"tickColor":"#111","domainColor":"#111","domainWidth":1.2,"tickWidth":1.2,"labelFontSize":18.5,"labelPadding":2}}}},{"data":{"values":[{"x":0.25,"y":0.046},{"x":0.3,"y":0.068},{"x":0.35,"y":0.09},{"x":0.4,"y":0.125},{"x":0.45,"y":0.18},{"x":0.5,"y":0.27},{"x":0.55,"y":0.37},{"x":0.6,"y":0.475},{"x":0.65,"y":0.6},{"x":0.7,"y":0.725},{"x":0.75,"y":0.845},{"x":0.8,"y":0.93},{"x":0.85,"y":0.975},{"x":0.875,"y":0.98},{"x":0.9,"y":0.975},{"x":0.95,"y":0.92},{"x":1,"y":0.84},{"x":1.05,"y":0.72},{"x":1.1,"y":0.59},{"x":1.15,"y":0.44},{"x":1.2,"y":0.31},{"x":1.25,"y":0.22},{"x":1.3,"y":0.15},{"x":1.35,"y":0.105},{"x":1.4,"y":0.075},{"x":1.45,"y":0.055},{"x":1.5,"y":0.042},{"x":1.55,"y":0.036},{"x":1.6,"y":0.032}]},"mark":{"type":"line","color":"#e3242b","strokeWidth":1.3,"interpolate":"monotone"},"encoding":{"x":{"field":"x","type":"quantitative"},"y":{"field":"y","type":"quantitative"}}},{"data":{"values":[{"x":1.195,"y":1.056}]},"mark":{"type":"square","size":34,"color":"black","opacity":1},"encoding":{"x":{"field":"x","type":"quantitative"},"y":{"field":"y","type":"quantitative"}}},{"data":{"values":[{"x":1.094,"y":0.975},{"x":1.289,"y":0.975}]},"mark":{"type":"line","color":"#e3242b","strokeWidth":1.3},"encoding":{"x":{"field":"x","type":"quantitative"},"y":{"field":"y","type":"quantitative"}}},{"data":{"values":[{"x":1.352,"y":1.056,"t":"Normalized measured"},{"x":1.328,"y":0.975,"t":"Gauss fit \u00a0FWHM=508 nm"}]},"mark":{"type":"text","fontSize":16,"align":"left","color":"#1a1a1a"},"encoding":{"x":{"field":"x","type":"quantitative"},"y":{"field":"y","type":"quantitative"},"text":{"field":"t"}}},{"data":{"values":[{"x":-0.14,"y":0.995,"t":"(b)"}]},"mark":{"type":"text","fontSize":18,"align":"left","color":"#1a1a1a"},"encoding":{"x":{"field":"x","type":"quantitative"},"y":{"field":"y","type":"quantitative"},"text":{"field":"t"}}}]}]}
